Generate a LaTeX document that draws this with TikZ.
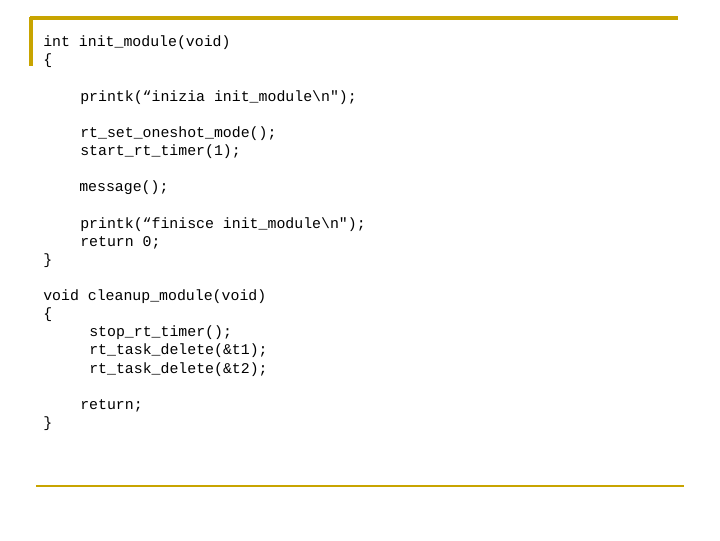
\documentclass[tikz,border=0pt]{standalone}
\usepackage{fontspec}
\setmonofont{Liberation Mono}
\begin{document}
\begin{tikzpicture}[x=0.75pt,y=-0.75pt,
  code/.style={anchor=mid west,inner sep=0pt,font=\ttfamily\fontsize{11.15pt}{13pt}\selectfont}]
\definecolor{gold}{HTML}{C8A400}
\useasboundingbox (0,0) rectangle (720,540);
\draw[gold,line width=2.5pt] (30,18) -- (678,18);
\draw[gold,line width=2.5pt] (31,17) -- (31,66);
\draw[gold,line width=1.8pt] (36,486) -- (684,486);
\begin{scope}[yshift=-1.5pt]
\node[code] (l1) at (43,42) {int init\_module(void)};
\node[code] (l2) at (43,60) {\{};
\node[code] (l3) at (80,97) {printk(“inizia init\_module\textbackslash n");};
\node[code] (l4) at (80,133) {rt\_set\_oneshot\_mode();};
\node[code] (l5) at (80,151) {start\_rt\_timer(1);};
\node[code] (l6) at (79,187) {message();};
\node[code] (l7) at (80,224) {printk(“finisce init\_module\textbackslash n");};
\node[code] (l8) at (80,242) {return 0;};
\node[code] (l9) at (43,260) {\}};
\node[code] (l10) at (43,296) {void cleanup\_module(void)};
\node[code] (l11) at (43,314) {\{};
\node[code] (l12) at (89,332) {stop\_rt\_timer();};
\node[code] (l13) at (89,350) {rt\_task\_delete(\&t1);};
\node[code] (l14) at (89,369) {rt\_task\_delete(\&t2);};
\node[code] (l15) at (80,405) {return;};
\node[code] (l16) at (43,423) {\}};
\end{scope}
\end{tikzpicture}
\end{document}
